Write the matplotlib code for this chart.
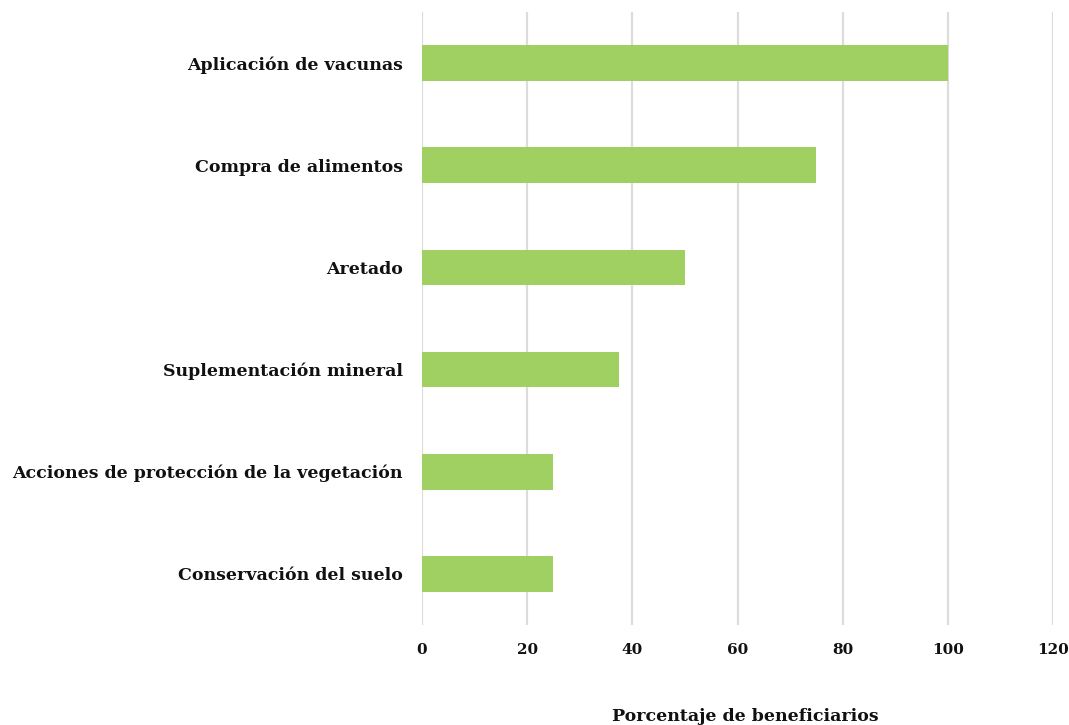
import matplotlib
matplotlib.use("Agg")
import matplotlib.pyplot as plt

categories = ["Aplicación de vacunas", "Compra de alimentos", "Aretado",
              "Suplementación mineral", "Acciones de protección de la vegetación",
              "Conservación del suelo"]
values = [100, 75, 50, 37.5, 25, 25]
xticks = [0, 20, 40, 60, 80, 100, 120]

plt.rcParams['font.family'] = ['DejaVu Serif']
fig = plt.figure(figsize=(10.69, 7.25), dpi=100)
ax = fig.add_axes([422/1069, 1-625/725, (1053-422)/1069, (625-12)/725])

ypos = list(range(len(categories)))
ax.barh(ypos, values, height=0.35, color='#A0D062', zorder=3)
ax.set_ylim(len(categories)-0.5, -0.5)
ax.set_xlim(0, 120)
ax.set_xticks(xticks)
ax.set_xticklabels([str(t) for t in xticks], fontsize=11, fontweight='bold')
ax.set_yticks(ypos)
ax.set_yticklabels(categories, fontsize=12.5, fontweight='bold')
ax.tick_params(axis='both', length=0, colors='#111111')
ax.tick_params(axis='x', pad=13)
ax.tick_params(axis='y', pad=14)
ax.xaxis.grid(True, color='#DCDCDC', linewidth=1.6, zorder=0)
for s in ax.spines.values():
    s.set_visible(False)
ax.set_xlabel("Porcentaje de beneficiarios", fontsize=12.5, fontweight='bold',
              labelpad=36, color='#111111')
ax.xaxis.set_label_coords((745-422)/(1053-422), -(708-625)/(625-12))
ax.xaxis.label.set_va('top')
fig.savefig("out.png", dpi=100)
